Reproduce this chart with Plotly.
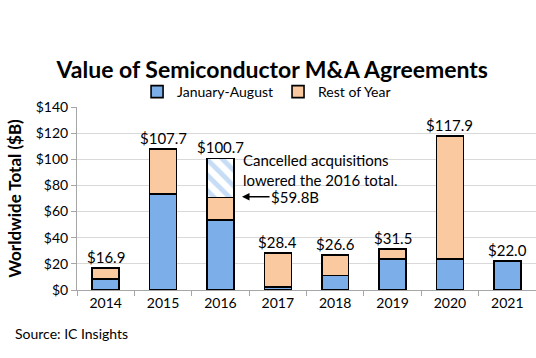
import plotly.graph_objects as go

years = ["2014", "2015", "2016", "2017", "2018", "2019", "2020", "2021"]
jan_aug = [8.2, 73.3, 53.6, 2.1, 11.0, 23.8, 23.8, 22.0]
rest_of_year = [8.7, 34.4, 17.1, 26.3, 15.6, 7.7, 94.1, 0.0]
cancelled = [0, 0, 30.0, 0, 0, 0, 0, 0]
totals = [16.9, 107.7, 100.7, 28.4, 26.6, 31.5, 117.9, 22.0]
total_labels = ["$16.9", "$107.7", "$100.7", "$28.4", "$26.6", "$31.5", "$117.9", "$22.0"]
y_ticks = [0, 20, 40, 60, 80, 100, 120, 140]
y_tick_labels = ["$0", "$20", "$40", "$60", "$80", "$100", "$120", "$140"]

FONT = "Lato"
BLUE = "#7cafea"
ORANGE = "#fbc9a0"

fig = go.Figure()
fig.add_trace(go.Bar(
    x=years, y=jan_aug, name="January-August",
    marker=dict(color=BLUE, line=dict(color="#000000", width=1.6)),
    width=0.47,
))
fig.add_trace(go.Bar(
    x=years, y=rest_of_year, name="Rest of Year",
    marker=dict(color=ORANGE, line=dict(color="#000000", width=1.6)),
    width=0.47,
))
fig.add_trace(go.Bar(
    x=years, y=cancelled, name="Cancelled", showlegend=False,
    marker=dict(color="#ffffff", line=dict(color="#000000", width=1.6),
                pattern=dict(shape="\\", fgcolor="#8fbbeb", bgcolor="#ffffff",
                             size=11, solidity=0.45)),
    width=0.47,
))

annotations = []
for i, (tot, lab) in enumerate(zip(totals, total_labels)):
    annotations.append(dict(x=i, y=tot, xref="x", yref="y", text=lab, showarrow=False,
                            yanchor="bottom",
                            font=dict(family=FONT, size=15, color="#000000")))

annotations.append(dict(x=2.36, y=92, xref="x", yref="y",
                        text="Cancelled acquisitions<br>lowered the 2016 total.",
                        showarrow=False, xanchor="left", yanchor="middle", align="left",
                        font=dict(family=FONT, size=15, color="#000000")))
annotations.append(dict(x=2.376, y=71.3, xref="x", yref="y", text="$59.8B",
                        showarrow=True, arrowhead=2, arrowsize=1, arrowwidth=1.5,
                        arrowcolor="#000000", ax=53, ay=0,
                        font=dict(family=FONT, size=15, color="#000000")))
annotations.append(dict(x=0, y=0, xref="paper", yref="paper",
                        text="Source: IC Insights", showarrow=False,
                        xanchor="left", yanchor="middle",
                        xshift=-64, yshift=-43,
                        font=dict(family=FONT, size=14, color="#000000")))

fig.update_layout(
    barmode="stack",
    width=536, height=358,
    margin=dict(l=77, r=0, t=107, b=68, autoexpand=False),
    paper_bgcolor="#ffffff", plot_bgcolor="#ffffff",
    font=dict(family=FONT, size=14, color="#000000"),
    title=dict(text="<b>Value of Semiconductor M&A Agreements</b>",
               x=0.508, xanchor="center", y=1 - 70 / 358, yanchor="middle",
               yref="container",
               font=dict(family=FONT, size=23, color="#000000")),
    legend=dict(orientation="h", x=0.413, xanchor="center", y=1.082, yanchor="middle",
                font=dict(family=FONT, size=14), bgcolor="rgba(0,0,0,0)",
                itemwidth=30, traceorder="normal"),
    showlegend=True,
    annotations=annotations,
    bargap=0.53,
)
fig.update_xaxes(
    type="category", tickson="boundaries", ticks="outside", ticklen=5,
    tickcolor="#a6a6a6", showline=True, linecolor="#a6a6a6", linewidth=1,
    showgrid=False, tickfont=dict(family=FONT, size=14), range=[-0.5, 7.5],
)
fig.update_yaxes(
    range=[0, 140], tickvals=y_ticks, ticktext=y_tick_labels, ticks="outside", ticklen=5,
    tickcolor="#a6a6a6", showline=True, linecolor="#a6a6a6", linewidth=1,
    showgrid=True, gridcolor="#d9d9d9", gridwidth=1, zeroline=False,
    tickfont=dict(family=FONT, size=14),
    title=dict(text="<b>Worldwide Total ($B)</b>", font=dict(family=FONT, size=17),
               standoff=9),
)

fig.write_html("out.html", config={"displayModeBar": False},
               post_script="document.body.style.margin='0px';")
